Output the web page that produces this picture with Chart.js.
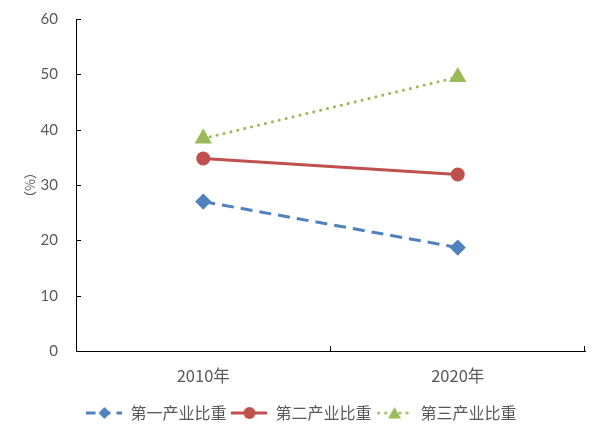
<!DOCTYPE html>
<html>
<head>
<meta charset="utf-8">
<script src="https://cdn.jsdelivr.net/npm/chart.js@4"></script>
<style>
  html, body { margin: 0; padding: 0; background: #fff; }
  #wrap { width: 603px; height: 439px; }
</style>
</head>
<body>
<div id="wrap"><canvas id="industry-chart"></canvas></div>
<script>
let years = ['2010年', '2020年']
let seriesNames = ['第一产业比重', '第二产业比重', '第三产业比重']
let primaryShare = [27.0, 18.7]
let secondaryShare = [34.8, 31.9]
let tertiaryShare = [38.4, 49.5]
let yTicks = [0, 10, 20, 30, 40, 50, 60]

let blue = '#4F81BD'
let red = '#C0504D'
let green = '#9BBB59'
let textGray = '#595959'
let cjkFont = '"Noto Sans CJK SC", "Microsoft YaHei", sans-serif'

// little canvas used as the legend sample: line + marker
function legendSample(color, dash, cap, marker) {
    let c = document.createElement('canvas')
    c.width = 36
    c.height = 14
    let g = c.getContext('2d')
    g.strokeStyle = color
    g.fillStyle = color
    g.lineWidth = 3
    g.lineCap = cap
    g.setLineDash(dash)
    g.beginPath()
    g.moveTo(cap === 'round' ? 2 : 0, 7)
    g.lineTo(36, 7)
    g.stroke()
    g.setLineDash([])
    g.beginPath()
    if (marker === 'rectRot') {
        g.moveTo(18, 1); g.lineTo(24, 7); g.lineTo(18, 13); g.lineTo(12, 7)
    } else if (marker === 'circle') {
        g.arc(18, 7, 6, 0, Math.PI * 2)
    } else {
        g.moveTo(18, 1); g.lineTo(24.5, 12.5); g.lineTo(11.5, 12.5)
    }
    g.closePath()
    g.fill()
    return c
}

let samples = [
    legendSample(blue, [9, 6], 'butt', 'rectRot'),
    legendSample(red, [], 'butt', 'circle'),
    legendSample(green, [0.1, 7], 'round', 'triangle')
]

// inward tick marks like the original axes
let innerTicks = {
    id: 'innerTicks',
    afterDraw(chart) {
        let ctx = chart.ctx
        let x = chart.scales.x
        let y = chart.scales.y
        ctx.save()
        ctx.strokeStyle = '#000'
        ctx.lineWidth = 1
        ctx.beginPath()
        yTicks.forEach(function(v) {
            let py = Math.round(y.getPixelForValue(v)) + 0.5
            ctx.moveTo(x.left, py)
            ctx.lineTo(x.left + 5, py)
        })
        let step = (x.right - x.left) / years.length
        for (let i = 1; i <= years.length; i++) {
            let px = Math.round(x.left + step * i) - 0.5
            ctx.moveTo(px, y.bottom)
            ctx.lineTo(px, y.bottom - 5)
        }
        ctx.stroke()
        ctx.restore()
    }
}

let chart = new Chart(document.getElementById('industry-chart'), {
    type: 'line',
    data: {
        labels: years,
        datasets: [
            {
                label: seriesNames[0], data: primaryShare,
                borderColor: blue, backgroundColor: blue, borderWidth: 3,
                borderDash: [12, 7], pointStyle: 'rectRot', pointRadius: 6,
                pointHoverRadius: 6
            },
            {
                label: seriesNames[1], data: secondaryShare,
                borderColor: red, backgroundColor: red, borderWidth: 3,
                pointStyle: 'circle', pointRadius: 5.5, pointHoverRadius: 5.5
            },
            {
                label: seriesNames[2], data: tertiaryShare,
                borderColor: green, backgroundColor: green, borderWidth: 3,
                borderCapStyle: 'round', borderDash: [0.1, 7],
                pointStyle: 'triangle', pointRadius: 7, pointHoverRadius: 7
            }
        ]
    },
    options: {
        responsive: true,
        maintainAspectRatio: false,
        animation: false,
        layout: { padding: { top: 18, right: 18, left: 18, bottom: 8 } },
        plugins: {
            tooltip: { enabled: false },
            legend: {
                position: 'bottom',
                labels: {
                    usePointStyle: true,
                    pointStyleWidth: 36,
                    boxHeight: 14,
                    padding: 5,
                    color: textGray,
                    font: { family: cjkFont, size: 16 },
                    generateLabels: function(ch) {
                        return ch.data.datasets.map(function(ds, i) {
                            return {
                                text: ds.label, pointStyle: samples[i],
                                fillStyle: ds.borderColor, strokeStyle: ds.borderColor,
                                lineWidth: 0, hidden: false, datasetIndex: i,
                                fontColor: textGray
                            }
                        })
                    }
                }
            }
        },
        scales: {
            x: {
                offset: true,
                grid: { display: false, offset: true },
                border: { display: true, color: '#000', width: 1 },
                ticks: {
                    color: textGray, padding: 7,
                    font: { family: '"Noto Sans CJK SC", sans-serif', size: 16.5 }
                },
                afterFit: function(scale) { scale.height = 49 }
            },
            y: {
                min: 0, max: 60,
                afterBuildTicks: function(scale) {
                    scale.ticks = yTicks.map(function(v) { return { value: v } })
                },
                grid: { display: false },
                border: { display: true, color: '#000', width: 1 },
                ticks: {
                    color: textGray, padding: 10,
                    font: { family: 'Lato, "Open Sans", sans-serif', size: 15 }
                },
                title: {
                    display: true, text: '（%）', color: textGray,
                    font: { family: cjkFont, size: 13 }, padding: { top: 4, bottom: 0 }
                },
                afterFit: function(scale) { scale.width = 58 }
            }
        }
    },
    plugins: [innerTicks]
})
</script>
</body>
</html>
